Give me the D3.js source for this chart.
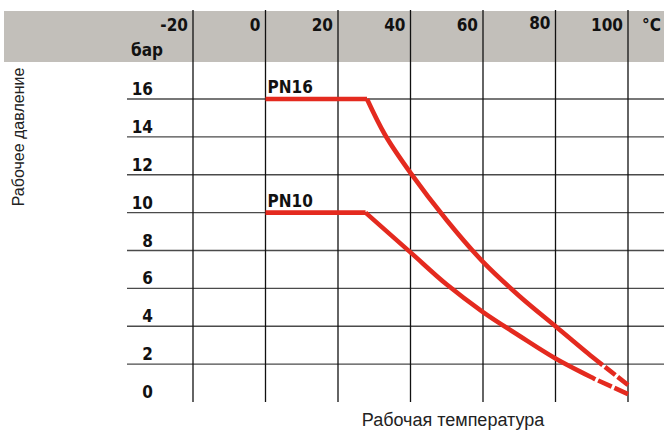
<!DOCTYPE html>
<html lang="ru">
<head>
  <meta charset="UTF-8">
  <title>Рабочее давление / Рабочая температура</title>
  <script src="https://d3js.org/d3.v7.min.js"></script>
  <style>
    body { margin: 0; background: #fff; }
    .tick-label {
      font-family: "DejaVu Sans Condensed", "DejaVu Sans", sans-serif;
      font-stretch: condensed;
      font-weight: bold;
      font-size: 17px;
      fill: #111;
    }
    .axis-title {
      font-family: "Liberation Sans", Arial, sans-serif;
      font-size: 16px;
      fill: #222;
    }
    .grid-h { stroke: #4a4a4a; stroke-width: 1.4px; }
    .grid-v { stroke: #111; stroke-width: 1.3px; }
    .curve { fill: none; stroke: #e42a1f; stroke-width: 4.6px; }
  </style>
</head>
<body>
<svg width="664" height="431" id="chart"></svg>

<script>
  // temperature columns (°C) and pressure rows (бар)
  const tempTicks = [-20, 0, 20, 40, 60, 80, 100];
  const pressureTicks = [0, 2, 4, 6, 8, 10, 12, 14, 16];

  // PN16: flat part, curved part, dashed tail
  const pn16FlatT = [0, 28];
  const pn16FlatP = [16, 16];
  const pn16CurveT = [28, 33, 40, 50, 60, 70, 80, 90, 93];
  const pn16CurveP = [16, 14.1, 12.1, 9.6, 7.4, 5.6, 4.0, 2.4, 1.95];
  const pn16DashT = [93, 100];
  const pn16DashP = [1.95, 0.9];

  // PN10
  const pn10FlatT = [0, 27.6];
  const pn10FlatP = [10, 10];
  const pn10CurveT = [27.6, 40, 50, 60, 70, 80, 91];
  const pn10CurveP = [10, 7.9, 6.2, 4.75, 3.5, 2.3, 1.2];
  const pn10DashT = [91, 100];
  const pn10DashP = [1.2, 0.42];

  const series = [
    { name: 'PN16', flat: [pn16FlatT, pn16FlatP], curve: [pn16CurveT, pn16CurveP], dash: [pn16DashT, pn16DashP] },
    { name: 'PN10', flat: [pn10FlatT, pn10FlatP], curve: [pn10CurveT, pn10CurveP], dash: [pn10DashT, pn10DashP] }
  ];

  const svg = d3.select('#chart');
  const x = d3.scaleLinear().domain([-20, 100]).range([193, 628]);
  const y = d3.scaleLinear().domain([0, 16]).range([402, 99]);

  const zip = ([ts, ps]) => ts.map((t, i) => [t, ps[i]]);

  // grey header band
  svg.append('rect')
    .attr('x', 4).attr('y', 11)
    .attr('width', 660).attr('height', 51)
    .attr('fill', '#c2bfba');

  // horizontal grid
  svg.selectAll('.grid-h')
    .data(pressureTicks.filter(d => d > 0))
    .enter().append('line')
    .attr('class', 'grid-h')
    .attr('x1', 127).attr('x2', 664)
    .attr('y1', d => y(d)).attr('y2', d => y(d));

  // vertical grid
  svg.selectAll('.grid-v')
    .data(tempTicks)
    .enter().append('line')
    .attr('class', 'grid-v')
    .attr('x1', d => x(d)).attr('x2', d => x(d))
    .attr('y1', 10).attr('y2', y(0));

  // column labels
  svg.selectAll('.tlabel')
    .data(tempTicks)
    .enter().append('text')
    .attr('class', 'tick-label')
    .attr('x', d => x(d) - 5)
    .attr('y', d => d === 80 ? 29 : 31)
    .attr('text-anchor', 'end')
    .text(d => d);

  svg.append('text')
    .attr('class', 'tick-label')
    .attr('x', x(100) + 14).attr('y', 31)
    .text('°C');

  svg.append('text')
    .attr('class', 'tick-label')
    .attr('x', 131).attr('y', 56)
    .text('бар');

  // row labels
  svg.selectAll('.plabel')
    .data(pressureTicks)
    .enter().append('text')
    .attr('class', 'tick-label')
    .attr('x', 153)
    .attr('y', d => y(d) - 4)
    .attr('text-anchor', 'end')
    .text(d => d);

  // curves
  const lineFlat = d3.line().x(d => x(d[0])).y(d => y(d[1]));
  const lineCurve = d3.line().x(d => x(d[0])).y(d => y(d[1])).curve(d3.curveCatmullRom.alpha(0.5));

  series.forEach(s => {
    svg.append('path').attr('class', 'curve').attr('d', lineFlat(zip(s.flat)));
    svg.append('path').attr('class', 'curve').attr('d', lineCurve(zip(s.curve)));
    const dash = svg.append('path').attr('class', 'curve').attr('d', lineFlat(zip(s.dash)));
    const len = dash.node().getTotalLength();
    const gap = 3, d = (len - 2 * gap) / 2;
    dash.attr('stroke-dasharray', `0 ${gap} ${d} ${gap} ${d}`);

    svg.append('text')
      .attr('class', 'tick-label')
      .attr('x', x(s.flat[0][0]) + 2)
      .attr('y', y(s.flat[1][0]) - 6)
      .text(s.name);
  });

  // axis titles
  svg.append('text')
    .attr('class', 'axis-title')
    .attr('transform', 'translate(24,137) rotate(-90)')
    .attr('text-anchor', 'middle')
    .text('Рабочее давление');

  svg.append('text')
    .attr('class', 'axis-title')
    .attr('x', 453).attr('y', 426)
    .attr('text-anchor', 'middle')
    .style('font-size', '18px')
    .text('Рабочая температура');
</script>
</body>
</html>
